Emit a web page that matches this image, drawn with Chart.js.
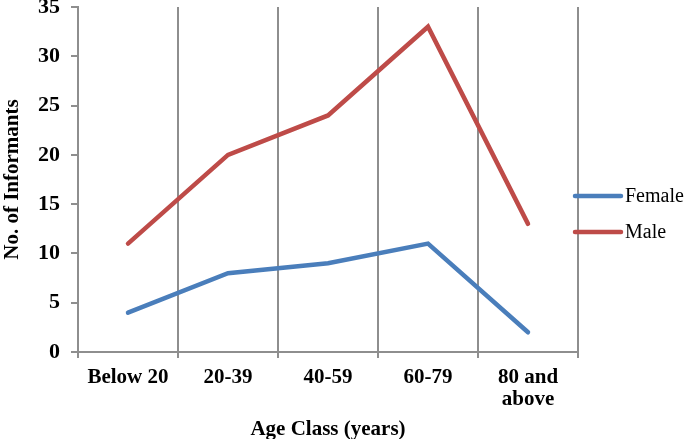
<!DOCTYPE html>
<html>
<head>
<meta charset="utf-8">
<script src="https://cdn.jsdelivr.net/npm/chart.js@4"></script>
<style>
  html, body { margin: 0; padding: 0; background: #fff; }
  #wrap { width: 685px; height: 439px; }
</style>
</head>
<body>
<div id="wrap"><canvas id="ageChart"></canvas></div>
<script>
const ageClasses = ['Below 20', '20-39', '40-59', '60-79', ['80 and', 'above']];
const femaleCounts = [4, 8, 9, 11, 2];
const maleCounts = [11, 20, 24, 33, 13];

const gridGrey = '#8e8e8e';
const serif = 'Liberation Serif, Times New Roman, serif';

// legend drawn by hand so it can sit where the original one does
const sideLegend = {
    id: 'sideLegend',
    afterDraw(chart, args, opts) {
        const ctx = chart.ctx;
        ctx.save();
        chart.data.datasets.forEach((ds, i) => {
            const y = opts.top + i * opts.gap;
            ctx.strokeStyle = ds.borderColor;
            ctx.lineWidth = ds.borderWidth;
            ctx.lineCap = 'round';
            ctx.beginPath();
            ctx.moveTo(opts.left, y);
            ctx.lineTo(opts.left + opts.lineLen, y);
            ctx.stroke();
            ctx.fillStyle = '#000';
            ctx.font = '20px ' + serif;
            ctx.textBaseline = 'middle';
            ctx.fillText(ds.label, opts.left + opts.lineLen + 4, y + 1);
        });
        ctx.restore();
    }
};

new Chart(document.getElementById('ageChart'), {
    type: 'line',
    data: {
        labels: ageClasses,
        datasets: [
            {
                label: 'Female',
                data: femaleCounts,
                borderColor: '#4a7ebb',
                borderWidth: 4.5,
                borderCapStyle: 'round',
                pointRadius: 0,
                tension: 0
            },
            {
                label: 'Male',
                data: maleCounts,
                borderColor: '#be4b48',
                borderWidth: 4.5,
                borderCapStyle: 'round',
                pointRadius: 0,
                tension: 0
            }
        ]
    },
    options: {
        responsive: true,
        maintainAspectRatio: false,
        animation: false,
        layout: { padding: { top: 7, right: 107, left: 0, bottom: 0 } },
        plugins: {
            legend: { display: false },
            tooltip: { enabled: false },
            sideLegend: { left: 575, top: 196, gap: 36, lineLen: 46 }
        },
        scales: {
            x: {
                offset: true,
                grid: {
                    offset: true,
                    color: gridGrey,
                    lineWidth: 2,
                    drawTicks: true,
                    tickLength: 6
                },
                border: { display: true, color: gridGrey, width: 2 },
                ticks: {
                    color: '#000',
                    padding: 9,
                    maxRotation: 0,
                    autoSkip: false,
                    font: { family: serif, size: 21, weight: 'bold', lineHeight: 1.05 }
                },
                title: {
                    display: true,
                    text: 'Age Class (years)',
                    color: '#000',
                    padding: { top: 0, bottom: -3 },
                    font: { family: serif, size: 21, weight: 'bold' }
                },
                afterFit(scale) {
                    scale.height = 87;
                    scale.paddingLeft = 0;
                    scale.paddingRight = 0;
                }
            },
            y: {
                min: 0,
                max: 35,
                grid: {
                    drawOnChartArea: false,
                    drawTicks: true,
                    tickLength: 7,
                    color: gridGrey,
                    lineWidth: 2
                },
                border: { display: true, color: gridGrey, width: 2 },
                ticks: {
                    stepSize: 5,
                    color: '#000',
                    padding: 11,
                    font: { family: serif, size: 22, weight: 'bold' }
                },
                title: {
                    display: true,
                    text: 'No. of Informants',
                    color: '#000',
                    padding: { top: 0, bottom: 0 },
                    font: { family: serif, size: 21, weight: 'bold' }
                },
                afterFit(scale) {
                    scale.width = 78;
                    scale.paddingTop = 0;
                    scale.paddingBottom = 0;
                }
            }
        }
    },
    plugins: [sideLegend]
});
</script>
</body>
</html>
